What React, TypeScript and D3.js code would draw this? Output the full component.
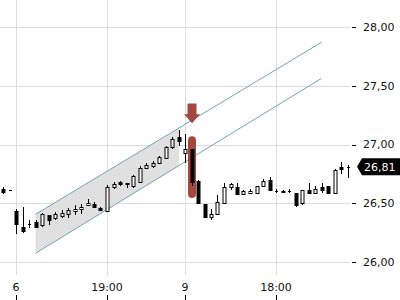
import React from "react";
import * as d3 from "d3";

const opens = [26.62,26.61,26.434,26.298,26.323,26.34,26.315,26.4,26.374,26.391,26.409,26.434,26.451,26.485,26.494,26.46,26.434,26.638,26.681,26.672,26.647,26.681,26.8,26.817,26.843,26.885,26.979,27.064,26.928,26.962,26.689,26.494,26.383,26.409,26.502,26.638,26.638,26.579,26.587,26.587,26.647,26.698,26.604,26.604,26.604,26.587,26.502,26.613,26.587,26.638,26.647,26.587,26.809,26.81];
const highs = [26.638,26.61,26.451,26.468,26.357,26.357,26.417,26.4,26.426,26.443,26.46,26.485,26.494,26.536,26.511,26.468,26.655,26.681,26.689,26.672,26.74,26.817,26.843,26.86,26.902,26.987,27.064,27.123,27.089,26.962,26.698,26.494,26.451,26.57,26.672,26.672,26.672,26.613,26.621,26.647,26.706,26.723,26.621,26.613,26.621,26.587,26.613,26.672,26.647,26.672,26.647,26.791,26.851,26.826];
const lows = [26.587,26.61,26.247,26.255,26.298,26.298,26.306,26.323,26.366,26.383,26.383,26.409,26.417,26.485,26.468,26.443,26.434,26.63,26.655,26.638,26.638,26.681,26.8,26.809,26.843,26.885,26.97,26.996,26.851,26.655,26.502,26.383,26.366,26.409,26.502,26.621,26.579,26.579,26.587,26.587,26.647,26.613,26.596,26.596,26.596,26.477,26.494,26.587,26.587,26.596,26.587,26.587,26.757,26.723];
const closes = [26.596,26.61,26.323,26.264,26.323,26.298,26.409,26.357,26.409,26.417,26.443,26.451,26.468,26.502,26.468,26.443,26.638,26.664,26.664,26.664,26.732,26.8,26.826,26.843,26.894,26.979,27.047,27.03,26.962,26.681,26.502,26.383,26.409,26.511,26.638,26.664,26.579,26.604,26.604,26.647,26.689,26.613,26.604,26.596,26.604,26.485,26.613,26.587,26.621,26.613,26.587,26.783,26.791,26.81];

const yTicks = [26, 26.5, 27, 27.5, 28];
const xTickIndex = [2, 16, 28, 42];
const xTickLabels = ["6", "19:00", "9", "18:00"];

// channel: [startIndex, endIndex], prices at start / end
const channelIdx = [5, 49];
const upperLine = [26.406, 27.87];
const lowerLine = [26.074, 27.563];
const channelFillEnd = 27.08;

// annotation: candle index, arrow top/tip price, highlight top/bottom price
const markIndex = 29;
const arrowPrices = [27.35, 27.18];
const highlightPrices = [27.07, 26.545];
const lastPrice = 26.81;

const W = 400, H = 300;
const FONT = "DejaVu Sans";

export default function App() {
  const x = d3.scaleLinear().domain([0, 53]).range([3, 347.5]);
  const y = d3.scaleLinear().domain([26, 28]).range([262, 27]);
  const fmt = (v: number) => d3.format(".2f")(v).replace(".", ",");
  const px = (v: number) => Math.round(v) + 0.5;

  const lineAt = (pts: number[], i: number) =>
    pts[0] + ((pts[1] - pts[0]) * (i - channelIdx[0])) / (channelIdx[1] - channelIdx[0]);

  const fillPts: [number, number][] = [
    [x(channelIdx[0]), y(lineAt(upperLine, channelIdx[0]))],
    [x(channelFillEnd), y(lineAt(upperLine, channelFillEnd))],
    [x(channelFillEnd), y(lineAt(lowerLine, channelFillEnd))],
    [x(channelIdx[0]), y(lineAt(lowerLine, channelIdx[0]))],
  ];
  const fillPath = d3.line()(fillPts) + "Z";

  const ax = x(markIndex) + 0.5;
  const aTop = y(arrowPrices[0]);
  const aTip = y(arrowPrices[1]);
  const aMid = aTop + (aTip - aTop) * 0.55;
  const arrowPath = `M${ax - 4.5},${aTop} L${ax + 4.5},${aTop} L${ax + 4.5},${aMid} L${ax + 8},${aMid} L${ax},${aTip} L${ax - 8},${aMid} L${ax - 4.5},${aMid} Z`;

  const ly = y(lastPrice);

  return (
    <svg width={W} height={H} style={{ position: "absolute", left: 0, top: 0, background: "#fff" }}>
      {yTicks.map((t) => (
        <line key={"hg" + t} x1={0} x2={350} y1={px(y(t))} y2={px(y(t))} stroke="#dcdcdc" strokeWidth={1} />
      ))}
      {xTickIndex.map((i) => (
        <line key={"vg" + i} x1={px(x(i))} x2={px(x(i))} y1={0} y2={275} stroke="#dcdcdc" strokeWidth={1} />
      ))}
      <path d={fillPath} fill="#e0e0e0" />
      <line x1={x(channelIdx[0])} y1={y(upperLine[0])} x2={x(channelIdx[1])} y2={y(upperLine[1])} stroke="#6aa9ad" strokeWidth={1} />
      <line x1={x(channelIdx[0])} y1={y(lowerLine[0])} x2={x(channelIdx[1])} y2={y(lowerLine[1])} stroke="#6aa9ad" strokeWidth={1} />
      <rect x={ax - 4} y={y(highlightPrices[0])} width={8} height={y(highlightPrices[1]) - y(highlightPrices[0])} rx={4} fill="#9b3a30" opacity={0.92} />
      <path d={arrowPath} fill="#9b3a30" opacity={0.92} />
      {opens.map((o, i) => {
        const c = closes[i];
        const cx = Math.round(x(i));
        const up = c > o;
        const flat = Math.abs(c - o) < 0.004;
        const top = Math.round(y(Math.max(o, c)));
        const bot = Math.round(y(Math.min(o, c)));
        return (
          <g key={i}>
            <line x1={cx + 0.5} x2={cx + 0.5} y1={Math.round(y(highs[i]))} y2={Math.round(y(lows[i])) + 1} stroke="#000" strokeWidth={1} />
            {flat ? (
              <line x1={cx - 1} x2={cx + 2} y1={top + 0.5} y2={top + 0.5} stroke="#000" strokeWidth={1} />
            ) : up ? (
              <rect x={cx - 1} y={top + 0.5} width={3} height={Math.max(1, bot - top)} fill="#fff" stroke="#000" strokeWidth={1} />
            ) : (
              <rect x={cx - 1.5} y={top} width={4} height={Math.max(1, bot - top + 1)} fill="#000" />
            )}
          </g>
        );
      })}
      {yTicks.map((t) => (
        <g key={"yt" + t}>
          <line x1={352} x2={356} y1={px(y(t))} y2={px(y(t))} stroke="#000" strokeWidth={1} />
          <text x={363} y={y(t)} dy="0.35em" fontFamily={FONT} fontSize={11} fill="#111">{fmt(t)}</text>
        </g>
      ))}
      {xTickIndex.map((i, k) => (
        <g key={"xt" + i}>
          <text x={x(i)} y={287} dy="0.35em" textAnchor="middle" fontFamily={FONT} fontSize={11} fill="#111">{xTickLabels[k]}</text>
          <line x1={px(x(i))} x2={px(x(i))} y1={295} y2={300} stroke="#000" strokeWidth={1} />
        </g>
      ))}
      <path d={`M357,${ly} L362,${ly - 8.5} L400,${ly - 8.5} L400,${ly + 8.5} L362,${ly + 8.5} Z`} fill="#000" />
      <text x={364} y={ly} dy="0.35em" fontFamily={FONT} fontSize={11} fill="#fff">{fmt(lastPrice)}</text>
    </svg>
  );
}
